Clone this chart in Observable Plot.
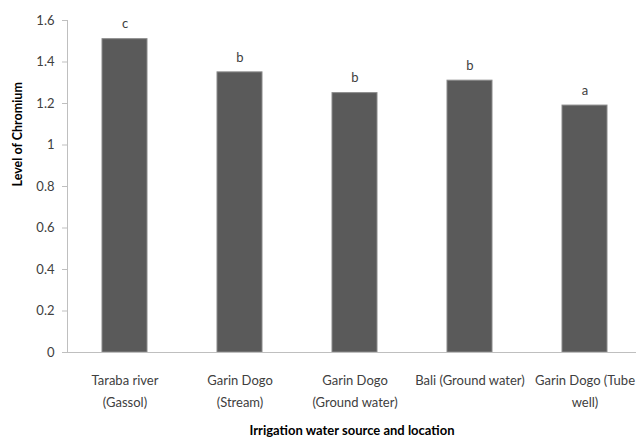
<!DOCTYPE html>
<html>
<head>
<meta charset="utf-8">
<script src="https://cdn.jsdelivr.net/npm/d3@7"></script>
<script src="https://cdn.jsdelivr.net/npm/@observablehq/plot@0.6"></script>
<style>
  body { margin: 0; background: #fff; }
  svg { font-family: Lato, "Open Sans", sans-serif; }
</style>
</head>
<body>
<div id="chart"></div>
<script>
const categories = [
  "Taraba river\n(Gassol)",
  "Garin Dogo\n(Stream)",
  "Garin Dogo\n(Ground water)",
  "Bali (Ground water)",
  "Garin Dogo (Tube\nwell)"
];
const values = [1.51, 1.35, 1.25, 1.31, 1.19];
const letters = ["c", "b", "b", "b", "a"];
const yTicks = [0, 0.2, 0.4, 0.6, 0.8, 1, 1.2, 1.4, 1.6];
const xTitle = "Irrigation water source and location";
const yTitle = "Level of Chromium";

const data = categories.map((c, i) => ({cat: c, value: values[i], letter: letters[i]}));

const chart = Plot.plot({
  width: 636,
  height: 441,
  marginTop: 20,
  marginBottom: 89,
  marginLeft: 67,
  marginRight: 0,
  style: {fontFamily: "Lato, 'Open Sans', sans-serif", fontSize: "13px", color: "#404040"},
  x: {domain: categories, range: [67, 642], paddingInner: 0.61, paddingOuter: 0.305},
  y: {domain: [0, 1.6]},
  marks: [
    Plot.frame({anchor: "left", stroke: "#bfbfbf", strokeOpacity: 1}),
    Plot.barY(data, {x: "cat", y: "value", fill: "#5a5a5a", stroke: "#8a8a8a", strokeWidth: 1}),
    Plot.ruleY([0], {stroke: "#bfbfbf"}),
    Plot.text(data, {x: "cat", y: "value", text: "letter", dy: -15, fontSize: 13, fill: "#404040"}),
    Plot.axisY({ticks: yTicks, tickFormat: d => String(+d.toFixed(1)), tickSize: 5, tickPadding: 8, stroke: "#bfbfbf", label: null, fontSize: 13}),
    Plot.axisX({tickSize: 0, tickPadding: 17, lineHeight: 1.7, label: null, fontSize: 13}),
    Plot.text([xTitle], {frameAnchor: "bottom", dy: 82, fontWeight: "bold", fontSize: 13, fill: "#000"}),
    Plot.text([yTitle], {frameAnchor: "left", dx: -50, rotate: -90, fontWeight: "bold", fontSize: 12.5, fill: "#000"})
  ]
});
document.getElementById("chart").appendChild(chart);
</script>
</body>
</html>
